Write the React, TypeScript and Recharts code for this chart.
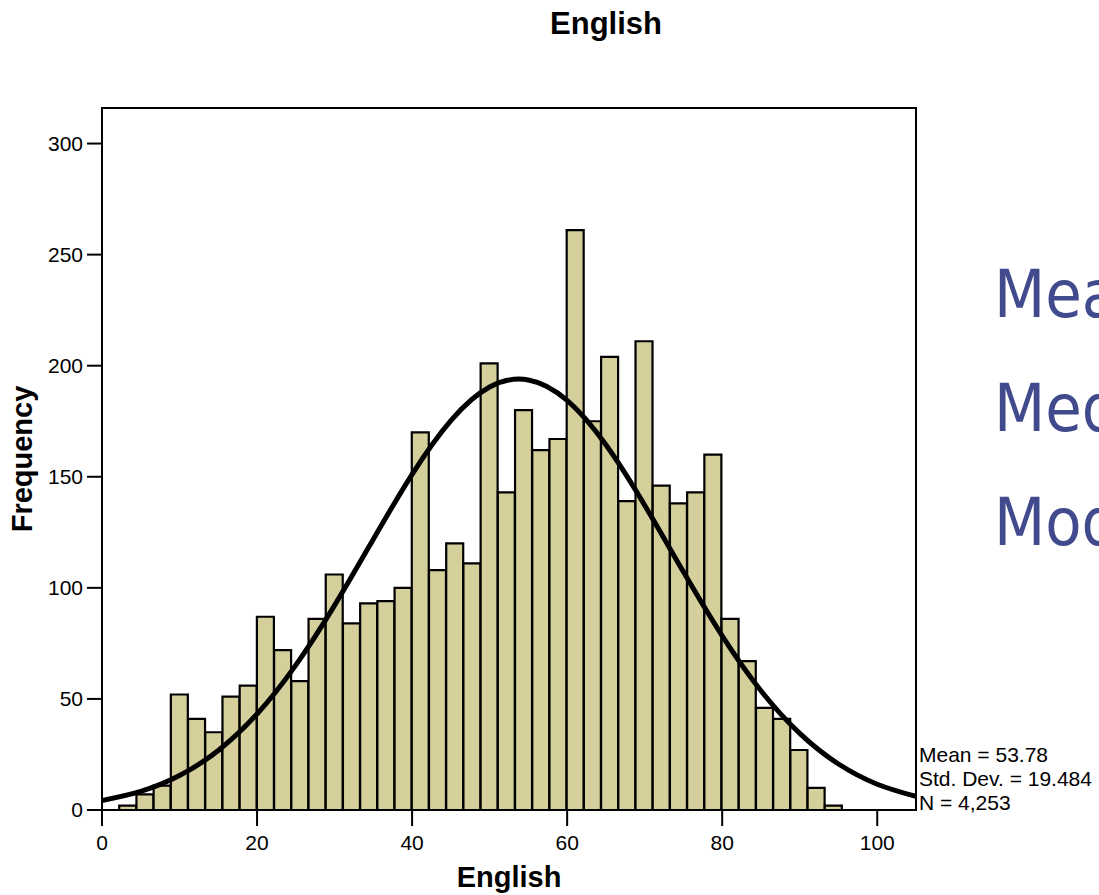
import React from "react";
import {
  ComposedChart,
  Bar,
  Line,
  XAxis,
  YAxis,
  ReferenceArea,
  Customized,
} from "recharts";

// histogram bins (centres, width ~2.22) and counts
const binCenters = [
  3.33, 5.55, 7.77, 9.99, 12.21, 14.43, 16.65, 18.87, 21.09, 23.31, 25.53,
  27.75, 29.97, 32.19, 34.41, 36.63, 38.85, 41.07, 43.29, 45.51, 47.73, 49.95,
  52.17, 54.39, 56.61, 58.83, 61.05, 63.27, 65.49, 67.71, 69.93, 72.15, 74.37,
  76.59, 78.81, 81.03, 83.25, 85.47, 87.69, 89.91, 92.13, 94.35,
];
const frequencies = [
  2, 7, 11, 52, 41, 35, 51, 56, 87, 72, 58, 86, 106, 84, 93, 94, 100, 170, 108,
  120, 111, 201, 143, 180, 162, 167, 261, 175, 204, 139, 211, 146, 138, 143, 160,
  86, 67, 46, 41, 27, 10, 2,
];

// normal curve overlay, every 5 points
const curveX = [
  0, 5, 10, 15, 20, 25, 30, 35, 40, 45, 50, 55, 60, 65, 70, 75, 80, 85, 90, 95,
  100, 105,
];
const curveY = [
  4.3, 8.4, 15.5, 26.8, 43.2, 65.2, 92.1, 121.9, 151.1, 175.3, 190.4, 193.6,
  184.4, 164.4, 137.2, 107.2, 78.4, 53.7, 34.5, 20.7, 11.6, 6.1,
];

const xTicks = [0, 20, 40, 60, 80, 100];
const yTicks = [0, 50, 100, 150, 200, 250, 300];
const statLines = ["Mean = 53.78", "Std. Dev. = 19.484", "N = 4,253"];
const sideWords = ["Mean", "Median", "Mode"];

const W = 1099;
const H = 895;
const FONT = "'Liberation Sans', Arial, sans-serif";

const bars = binCenters.map((x, i) => ({ x, count: frequencies[i] }));
const curve = curveX.map((x, i) => ({ x, fit: curveY[i] }));

function YLabel(props: { viewBox?: { x?: number; y?: number; height?: number } }) {
  const vb = props.viewBox ?? {};
  const x = (vb.x ?? 0) + 32;
  const y = (vb.y ?? 0) + (vb.height ?? 0) / 2;
  return (
    <text
      x={x}
      y={y}
      transform={`rotate(-90, ${x}, ${y})`}
      textAnchor="middle"
      fontFamily={FONT}
      fontWeight={700}
      fontSize={29}
      fill="#000"
    >
      Frequency
    </text>
  );
}

function Extras() {
  return (
    <g>
      <text
        x={606}
        y={34}
        textAnchor="middle"
        fontFamily={FONT}
        fontWeight={700}
        fontSize={31}
        fill="#000"
      >
        English
      </text>
      {statLines.map((s, i) => (
        <text key={s} x={919} y={762 + i * 24} fontFamily={FONT} fontSize={21} fill="#000">
          {s}
        </text>
      ))}
      {/* slide text behind the chart, cut off by the right edge as in the original */}
      {sideWords.map((s, i) => (
        <text
          key={s}
          x={994}
          y={317 + i * 114}
          fontFamily="'DejaVu Sans Condensed', 'DejaVu Sans', Tahoma, sans-serif"
          fontSize={66}
          fill="#414a8c"
        >
          {s}
        </text>
      ))}
    </g>
  );
}

export default function App() {
  return (
    <div style={{ position: "absolute", left: 0, top: 0, width: W, height: H, background: "#fff" }}>
      <ComposedChart
        width={W}
        height={H}
        data={bars}
        margin={{ top: 108, right: 183, bottom: 0, left: 0 }}
        barCategoryGap={0}
        barGap={0}
      >
        <XAxis
          xAxisId="bins"
          dataKey="x"
          type="number"
          domain={[0, 105]}
          allowDataOverflow
          ticks={xTicks}
          height={85}
          tickSize={16}
          tickMargin={9}
          axisLine={{ stroke: "#000", strokeWidth: 2 }}
          tickLine={{ stroke: "#000", strokeWidth: 2 }}
          tick={{ fill: "#000", fontSize: 21, fontFamily: FONT }}
          label={{
            value: "English",
            position: "insideBottom",
            offset: 8,
            fill: "#000",
            fontSize: 29,
            fontWeight: 700,
            fontFamily: FONT,
          }}
        />
        <XAxis xAxisId="curve" dataKey="x" type="number" domain={[0, 105]} allowDataOverflow hide />
        <YAxis
          type="number"
          domain={[0, 316]}
          allowDataOverflow
          ticks={yTicks}
          width={102}
          tickSize={15}
          tickMargin={4}
          axisLine={{ stroke: "#000", strokeWidth: 2 }}
          tickLine={{ stroke: "#000", strokeWidth: 2 }}
          tick={{ fill: "#000", fontSize: 21, fontFamily: FONT }}
          label={(p: any) => <YLabel viewBox={p?.viewBox} />}
        />
        <Bar
          xAxisId="bins"
          dataKey="count"
          fill="#d4cf9b"
          stroke="#000"
          strokeWidth={2.2}
          isAnimationActive={false}
        />
        <Line
          xAxisId="curve"
          data={curve}
          dataKey="fit"
          type="natural"
          stroke="#000"
          strokeWidth={5}
          dot={false}
          activeDot={false}
          isAnimationActive={false}
        />
        {/* frame round the plot */}
        <ReferenceArea
          xAxisId="bins"
          x1={0}
          x2={105}
          y1={0}
          y2={316}
          fill="none"
          fillOpacity={0}
          stroke="#000"
          strokeWidth={2}
          ifOverflow="visible"
        />
        <Customized component={Extras} />
      </ComposedChart>
    </div>
  );
}
